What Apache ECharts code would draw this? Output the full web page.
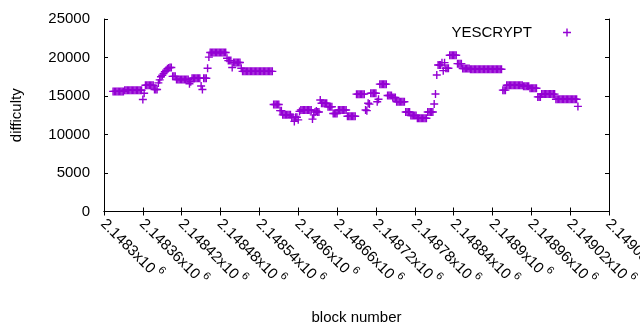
<!DOCTYPE html>
<html lang="en">
<head>
    <meta charset="UTF-8">
    <title>YESCRYPT difficulty</title>
    <script src="https://cdn.jsdelivr.net/npm/echarts@6/dist/echarts.min.js"></script>
    <style>
        body { margin: 0; background: #fff; }
    </style>
</head>
<body>
    <div id="main" style="width: 640px;height:330px;"></div>
    <script type="text/javascript">

        // difficulty, one value every second block
        const firstBlock = 2148314;
        const blockStep = 2;
        const difficulty = [
            15600, 15600, 15600, 15600, 15600, 15600, 15600, 15600, 15600,
            15750, 15750, 15750, 15750, 15750, 15750, 15750, 15750, 15750, 15750, 15750, 15750, 15750, 15750,
            14550, 15350, 16400, 16400, 16400, 16400, 16400, 16400, 16400, 15850, 15850, 15850,
            16700, 17100, 17500, 17700, 17900, 18150, 18350, 18550, 18650, 18700, 18700,
            17550, 17550, 17550, 17150, 17150, 17150, 17150, 17150, 17150, 17150, 17150, 17150, 17150,
            16600, 16850, 17300, 17300, 17300, 17300, 17300, 17300, 17300, 16300, 15850, 17300, 17300, 17300,
            18600, 20050, 20650, 20650, 20650, 20650, 20650, 20650, 20650, 20650, 20650, 20650, 20650, 20650, 20650,
            19900, 19600, 19600, 19600, 18700, 19350, 19350, 19350, 19350, 19350, 19350, 18600,
            18200, 18200, 18200, 18200, 18200, 18200, 18200, 18200, 18200, 18200, 18200, 18200,
            18200, 18200, 18200, 18200, 18200, 18200, 18200, 18200, 18200, 18200, 18200, 18200,
            13900, 13900, 13900, 13900, 13900, 13100, 13100, 12550, 12550, 12550, 12550, 12550, 12550, 12550,
            12250, 12250, 11700, 12250, 12250, 11900, 13000,
            13180, 13180, 13180, 13180, 13180, 13180, 13180, 13180, 13180, 12000, 12550, 12930, 13060, 12930, 12930,
            14480, 14060, 14060, 14060, 14060, 14060, 13610, 13610, 13610, 13610, 12720, 12720, 12720, 12720,
            13180, 13180, 13180, 13180, 13180, 13180, 13180, 12370, 12370, 12370, 12370, 12370, 12370, 12370,
            15240, 15240, 15240, 15240, 15240, 15240, 15240, 13180, 13100, 14050, 13950,
            15350, 15350, 15350, 15350, 15350, 14260, 14570, 16540, 16540, 16540, 16540, 16540, 16540,
            15070, 15070, 15070, 15070, 14810, 14810, 14810, 14260, 14260, 14260, 14260, 14260, 14260, 14260,
            12930, 12930, 12930, 12930, 12470, 12470, 12470, 12470, 12470,
            12110, 12110, 12110, 12110, 12110, 12110, 12110, 12110, 12930, 12930, 12930, 12930, 12930,
            13960, 15260, 17730, 19030, 19030, 19030, 19330, 18290, 19330, 18600, 18600, 18600,
            20300, 20300, 20300, 20300, 20300, 20300, 19200, 19200, 19200, 19200,
            18580, 18580, 18580, 18580, 18580, 18580,
            18470, 18470, 18470, 18470, 18470, 18470, 18470, 18470, 18470, 18470, 18470, 18470, 18470,
            18470, 18470, 18470, 18470, 18470, 18470, 18470, 18470, 18470, 18470, 18470, 18470,
            15760, 15760, 15760, 16390, 16390, 16390, 16390, 16390, 16390, 16390, 16390, 16390, 16390, 16390, 16390, 16390,
            16260, 16260, 16260, 16260, 16260, 16000, 16000, 16000, 16000, 16000, 16000, 14880, 14880, 14880,
            15250, 15250, 15250, 15250, 15250, 15250, 15250, 15250, 15250, 15250, 15250,
            14580, 14580, 14580, 14580, 14580, 14580, 14580, 14580, 14580, 14580, 14580, 14580, 14580, 14580, 14580, 14580, 14580,
            13650
        ];

        const seriesName = 'YESCRYPT';
        const xMin = 2148300, xMax = 2149080, xInterval = 60;
        const yMin = 0, yMax = 25000, yInterval = 5000;

        var points = difficulty.map(function (d, i) {
            return [firstBlock + i * blockStep, d];
        });

        var font = 'Liberation Sans, Arial, sans-serif';
        var plus = 'path://M0,3.3H8V4.7H0Z M3.3,0H4.7V8H3.3Z';
        var violet = '#9400d3';

        var chartDom = document.getElementById('main');
        var myChart = echarts.init(chartDom);

        var axisLine = { show: true, lineStyle: { color: '#000', width: 1 } };
        var axisTick = { show: true, inside: true, length: 4, lineStyle: { color: '#000' } };

        var option = {
            animation: false,
            textStyle: { fontFamily: font, color: '#000' },
            grid: {
                left: 104, right: 31, top: 19, bottom: 118.5,
                containLabel: false,
                outerBoundsMode: 'none'
            },
            legend: {
                right: 64,
                top: 20,
                align: 'right',
                itemWidth: 60,
                itemHeight: 8,
                textStyle: { fontSize: 15, color: '#000', fontFamily: font },
                data: [{ name: seriesName, icon: plus }]
            },
            xAxis: [{
                type: 'value',
                min: xMin,
                max: xMax,
                interval: xInterval,
                name: 'block number',
                nameLocation: 'middle',
                nameGap: 99,
                nameTextStyle: { fontSize: 15, color: '#000' },
                axisLine: axisLine,
                axisTick: axisTick,
                splitLine: { show: false },
                axisLabel: {
                    rotate: -45,
                    margin: 9,
                    showMinLabel: true,
                    showMaxLabel: true,
                    hideOverlap: false,
                    formatter: function (v) {
                        return '{m|' + String(+(v / 1e6).toFixed(5)) + 'x10}{e|6}';
                    },
                    rich: {
                        m: { fontSize: 15, color: '#000', fontFamily: font, lineHeight: 18, verticalAlign: 'bottom' },
                        e: { fontSize: 11, color: '#000', fontFamily: font, lineHeight: 11, verticalAlign: 'bottom', padding: [0, 0, 9, 3] }
                    }
                }
            }, {
                type: 'value',
                position: 'top',
                min: xMin,
                max: xMax,
                interval: xInterval,
                axisLine: axisLine,
                axisTick: axisTick,
                axisLabel: { show: false },
                splitLine: { show: false }
            }],
            yAxis: [{
                type: 'value',
                min: yMin,
                max: yMax,
                interval: yInterval,
                name: 'difficulty',
                nameLocation: 'middle',
                nameGap: 80,
                nameRotate: 90,
                nameTextStyle: { fontSize: 15, color: '#000' },
                axisLine: axisLine,
                axisTick: axisTick,
                splitLine: { show: false },
                axisLabel: {
                    fontSize: 15,
                    color: '#000',
                    margin: 14,
                    formatter: function (v) { return String(v); }
                }
            }, {
                type: 'value',
                position: 'right',
                min: yMin,
                max: yMax,
                interval: yInterval,
                axisLine: axisLine,
                axisTick: axisTick,
                axisLabel: { show: false },
                splitLine: { show: false }
            }],
            series: [{
                name: seriesName,
                type: 'scatter',
                symbol: plus,
                symbolSize: 8,
                itemStyle: { color: violet, opacity: 1 },
                emphasis: { disabled: true },
                data: points
            }]
        };

        myChart.setOption(option);

    </script>
</body>
</html>
